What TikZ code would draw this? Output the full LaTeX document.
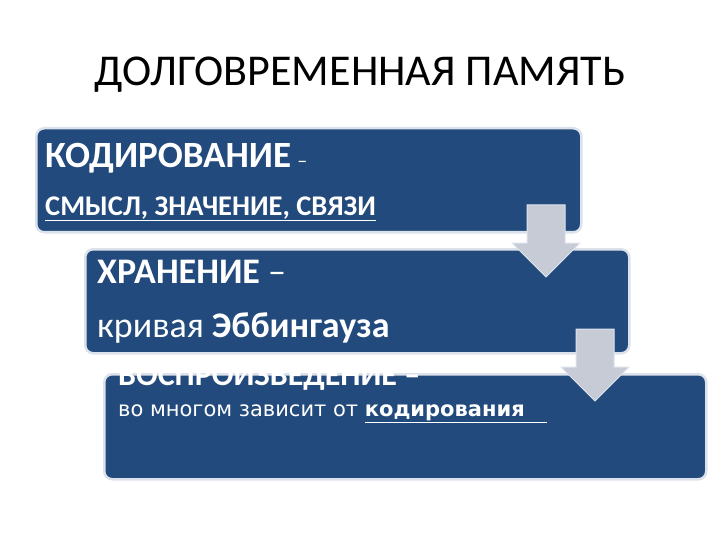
\documentclass[tikz,border=0pt]{standalone}
\usepackage{fontspec}
\setmainfont{Carlito}
\newfontfamily\widesans{DejaVu Sans}
\usetikzlibrary{positioning}
\definecolor{boxblue}{HTML}{224A7C}
\definecolor{boxrim}{HTML}{DCE2EB}
\definecolor{arrowgray}{HTML}{C6CBD6}
\definecolor{arrowrim}{HTML}{DDE4EE}

\begin{document}
\begin{tikzpicture}[x=1pt,y=-1pt,
  stage/.style={draw=boxrim,line width=2.5pt,fill=boxblue,rounded corners=8pt,anchor=north west,inner sep=0pt},
  txt/.style={text=white,anchor=base west,inner sep=0pt},
  fall/.style={fill=arrowgray,draw=arrowrim,line width=1pt}]
  \useasboundingbox (0,0) rectangle (720,540);
  \node[anchor=base,inner sep=0pt,font=\fontsize{44}{50}\selectfont] (title) at (360,86) {ДОЛГОВРЕМЕННАЯ ПАМЯТЬ};
  % three steps
  \node[stage,minimum width=545pt,minimum height=104pt] (kod) at (35,127) {};
  \node[stage,minimum width=544pt,minimum height=104pt] (hran) at (84,248) {};
  \node[stage,minimum width=602pt,minimum height=105pt] (vosp) at (103,373) {};
  % texts
  \node[txt,font=\fontsize{37}{42}\selectfont\bfseries] (kod1) at (45,168) {КОДИРОВАНИЕ\,{\fontsize{20}{24}\selectfont\mdseries –}};
  \node[txt,font=\fontsize{28.5}{32}\selectfont\bfseries] (kod2) at (45,215) {\underline{СМЫСЛ, ЗНАЧЕНИЕ, СВЯЗИ}};
  \node[txt,font=\fontsize{36}{40}\selectfont] (hran1) at (97,283) {\textbf{ХРАНЕНИЕ} –};
  \node[txt,font=\fontsize{36}{40}\selectfont] (hran2) at (97,337) {кривая \textbf{Эббингауза}};
  \node[txt,font=\fontsize{32}{36}\selectfont\bfseries] (vosp1) at (118,385) {ВОСПРОИЗВЕДЕНИЕ –};
  \node[txt,font=\widesans\fontsize{21}{24}\selectfont] (vosp2) at (118,416) {во многом зависит от \textbf{\underline{кодирования\ \ \ }}};
  % arrows between steps
  \foreach \ax/\ay in {546/205, 595/329}
    \draw[fall] (\ax-19,\ay) -- (\ax+19,\ay) -- (\ax+19,\ay+38) -- (\ax+34,\ay+38)
      -- (\ax,\ay+72) -- (\ax-34,\ay+38) -- (\ax-19,\ay+38) -- cycle;
\end{tikzpicture}
\end{document}
